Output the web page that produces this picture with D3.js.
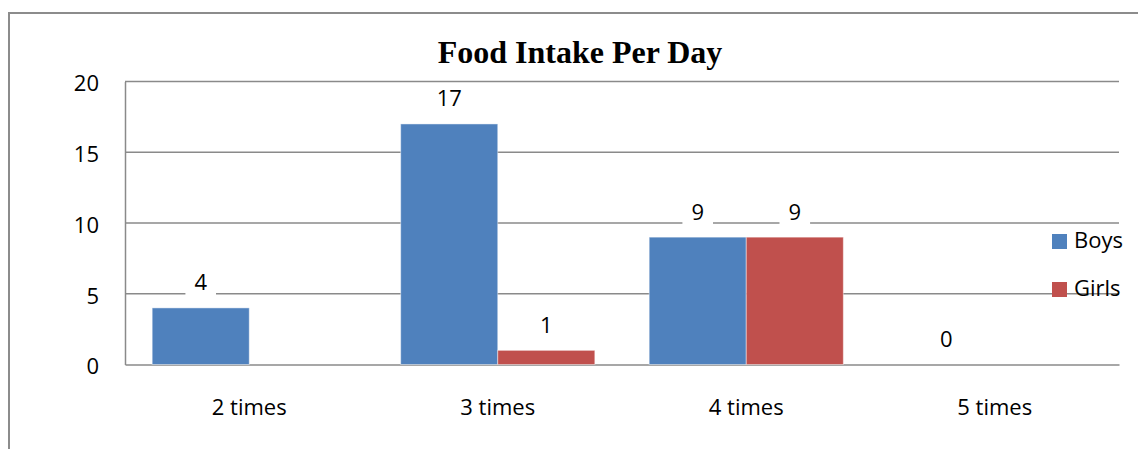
<!DOCTYPE html>
<html>
<head>
<meta charset="utf-8">
<script src="https://cdn.jsdelivr.net/npm/d3@7"></script>
<style>
  html, body { margin: 0; padding: 0; background: #fff; }
  svg { display: block; }
</style>
</head>
<body>
<svg id="chart" width="1138" height="449"></svg>
<script>
// Food intake per day, by number of meals
const categories = ["2 times", "3 times", "4 times", "5 times"];
const seriesNames = ["Boys", "Girls"];
const boys = [4, 17, 9, 0];
const girls = [null, 1, 9, null];
const yTicks = [0, 5, 10, 15, 20];
const colors = { Boys: "#4F81BD", Girls: "#C0504D" };

const svg = d3.select("#chart");
const font = "'Open Sans', sans-serif";
const gridColor = "#8a8a8a";

// outer frame
svg.append("rect")
  .attr("x", 9).attr("y", 13)
  .attr("width", 1150).attr("height", 460)
  .attr("fill", "none").attr("stroke", "#8c8c8c").attr("stroke-width", 2);

const plot = { left: 125, right: 1119, top: 81.5, bottom: 364.5 };

const x = d3.scaleBand().domain(categories).range([plot.left, plot.right]).paddingInner(0).paddingOuter(0);
const xSub = d3.scaleBand().domain(seriesNames).range([0, x.bandwidth()]).paddingInner(0).paddingOuter(0.28);
const y = d3.scaleLinear().domain([0, 20]).range([plot.bottom, plot.top]);

// horizontal gridlines
svg.append("g")
  .selectAll("line")
  .data(yTicks.filter(d => d > 0))
  .join("line")
  .attr("x1", plot.left).attr("x2", plot.right)
  .attr("y1", d => y(d)).attr("y2", d => y(d))
  .attr("stroke", gridColor).attr("stroke-width", 1.5);

// y axis
const yAxis = svg.append("g")
  .attr("transform", `translate(${plot.left},0)`)
  .call(d3.axisLeft(y).tickValues(yTicks).tickSize(0).tickPadding(26));
yAxis.select(".domain").attr("stroke", gridColor).attr("stroke-width", 1.5);
yAxis.selectAll("text").attr("font-family", font).attr("font-size", 22).attr("fill", "#000")
  .attr("dy", "0.42em");

// x axis
const xAxis = svg.append("g")
  .attr("transform", `translate(0,${plot.bottom})`)
  .call(d3.axisBottom(x).tickSize(0).tickPadding(35));
xAxis.select(".domain").attr("stroke", gridColor).attr("stroke-width", 1.5);
xAxis.selectAll("text").attr("font-family", font).attr("font-size", 22).attr("fill", "#000");

// bars
const rows = categories.map((c, i) => ({ cat: c, values: [
  { name: "Boys", v: boys[i] },
  { name: "Girls", v: girls[i] }
]}));

const groups = svg.append("g").selectAll("g")
  .data(rows).join("g")
  .attr("transform", d => `translate(${x(d.cat)},0)`);

groups.selectAll("rect")
  .data(d => d.values.filter(e => e.v !== null && e.v > 0))
  .join("rect")
  .attr("x", d => xSub(d.name))
  .attr("width", xSub.bandwidth())
  .attr("y", d => y(d.v))
  .attr("height", d => y(0) - y(d.v))
  .attr("fill", d => colors[d.name])
  .attr("stroke", "rgba(255,255,255,0.45)")
  .attr("stroke-width", 1);

// data labels with white backing boxes
const labels = groups.selectAll("g.lbl")
  .data(d => d.values.filter(e => e.v !== null))
  .join("g")
  .attr("class", "lbl")
  .attr("transform", d => `translate(${xSub(d.name) + xSub.bandwidth() / 2},${y(d.v) - 25.5})`);

labels.each(function(d) {
  const g = d3.select(this);
  const bg = g.append("rect").attr("fill", "#fff");
  const t = g.append("text")
    .attr("text-anchor", "middle")
    .attr("dy", "0.36em")
    .attr("font-family", font).attr("font-size", 22).attr("fill", "#000")
    .text(d.v);
  const w = t.node().getComputedTextLength() + 18;
  bg.attr("x", -w / 2).attr("y", -15).attr("width", w).attr("height", 30);
});

// title
svg.append("text")
  .attr("x", 580).attr("y", 63)
  .attr("text-anchor", "middle")
  .attr("font-family", "'Liberation Serif', 'Times New Roman', serif")
  .attr("font-weight", "bold").attr("font-size", 32)
  .text("Food Intake Per Day");

// legend
const legend = svg.append("g").selectAll("g")
  .data(seriesNames).join("g")
  .attr("transform", (d, i) => `translate(1052,${234 + i * 48})`);
legend.append("rect")
  .attr("width", 15).attr("height", 15)
  .attr("fill", d => colors[d]);
legend.append("text")
  .attr("x", 22).attr("y", 14)
  .attr("font-family", font).attr("font-size", 22).attr("fill", "#000")
  .text(d => d);
</script>
</body>
</html>
